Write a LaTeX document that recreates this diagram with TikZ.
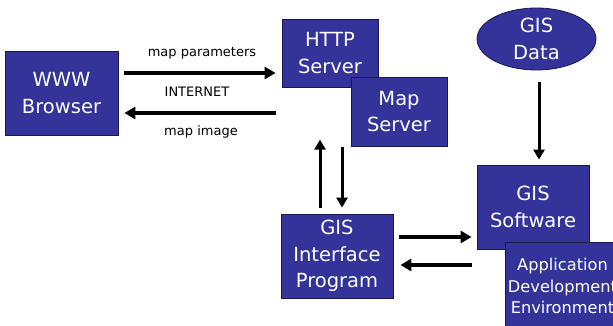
\documentclass[tikz,border=0pt]{standalone}
\usepackage{fontspec}
\setmainfont{DejaVu Sans}
\usetikzlibrary{arrows.meta,shapes.geometric}
\definecolor{boxfill}{RGB}{51,51,153}
\definecolor{boxline}{RGB}{25,25,80}
\begin{document}
\begin{tikzpicture}[x=1pt,y=-1pt,
  box/.style={draw=boxline,line width=0.8pt,fill=boxfill,text=white,align=center,inner sep=0pt,
    font=\fontsize{19.5}{26.5}\selectfont},
  smallbox/.style={box,font=\fontsize{16.2}{21.5}\selectfont},
  lbl/.style={font=\fontsize{13}{15}\selectfont,inner sep=0pt},
  arr/.style={line width=3.2pt,-{Triangle[length=11pt,width=12pt]}},
  varr/.style={line width=3pt,-{Triangle[length=10pt,width=11pt]}}]
\clip (0,0) rectangle (613,326);
\fill[white] (0,0) rectangle (613,326);
\node[box,minimum width=113pt,minimum height=84pt] (browser) at (61.5,93) {WWW\\Browser};
\node[box,minimum width=96pt,minimum height=68pt] (http) at (330,53) {HTTP\\Server};
\node[box,minimum width=96pt,minimum height=69pt] (mapsrv) at (399,111.5) {Map\\Server};
\node[box,ellipse,minimum width=119pt,minimum height=62pt] (gisdata) at (536.5,39) {GIS\\Data};
\node[box,minimum width=112pt,minimum height=84pt] (gissw) at (533,207) {GIS\\Software};
\node[smallbox,minimum width=115pt,minimum height=88pt] (appdev) at (562.5,286) {Application\\Development\\Environment};
\node[box,minimum width=112pt,minimum height=84pt] (gisif) at (337,256) {GIS\\Interface\\Program};
\node[lbl] (mapparams) at (202,53) {map parameters};
\node[lbl] (internet) at (197,92) {INTERNET};
\node[lbl] (mapimage) at (201,132) {map image};
\draw[arr] ([xshift=6pt,yshift=20pt]browser.east) -- ([xshift=-6pt,yshift=-20pt]http.west);
\draw[arr] ([xshift=-6pt,yshift=-60pt]http.west) -- ([xshift=6pt,yshift=-20pt]browser.east);
\draw[varr] ([xshift=-17pt,yshift=6pt]gisif.north) -- ([xshift=-17pt,yshift=74pt]gisif.north);
\draw[varr] ([xshift=-57pt,yshift=-1pt]mapsrv.south) -- ([xshift=5pt,yshift=6pt]gisif.north);
\draw[varr] ([xshift=2.5pt,yshift=-12pt]gisdata.south) -- ([xshift=6pt,yshift=5pt]gissw.north);
\draw[arr] ([xshift=6pt,yshift=19pt]gisif.east) -- ([xshift=-5pt,yshift=-30pt]gissw.west);
\draw[arr] ([xshift=-5pt,yshift=-58pt]gissw.west) -- ([xshift=7pt,yshift=-9pt]gisif.east);
\end{tikzpicture}
\end{document}
